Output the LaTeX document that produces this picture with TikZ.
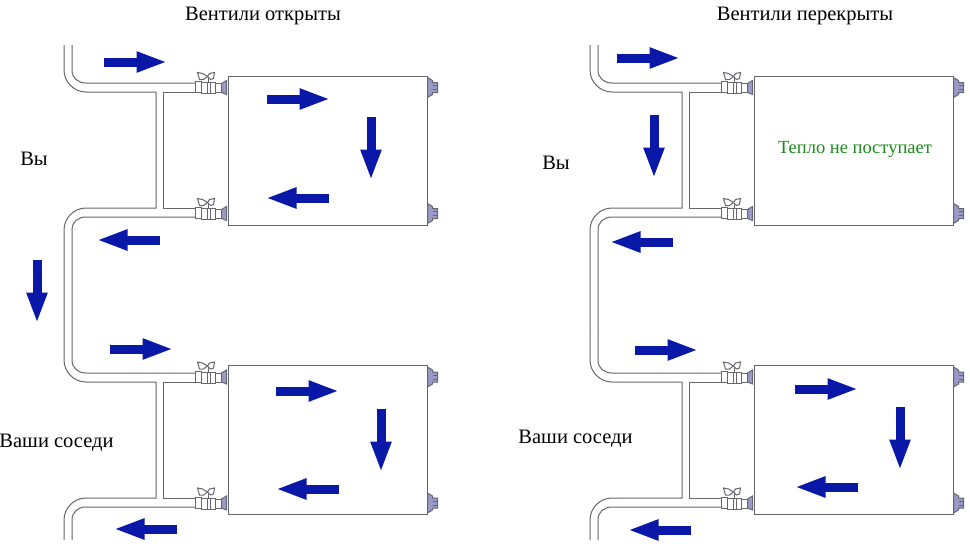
\documentclass[tikz,border=0pt]{standalone}
\usepackage{fontspec}
\setmainfont{Liberation Serif}
\usepackage{tikz}
\usetikzlibrary{arrows.meta,positioning,calc}
\definecolor{pipegray}{HTML}{66666E}
\definecolor{capblue}{HTML}{9A9AC8}
\definecolor{flowblue}{HTML}{0A18A8}
\definecolor{heatgreen}{HTML}{1A8A1A}
\tikzset{
  pipe/.style={draw=pipegray,line width=1pt},
  radiator/.style={draw=pipegray,line width=1pt,minimum width=199pt,minimum height=149pt,inner sep=0pt},
  flow/.style={draw=flowblue,line width=9pt,-{Triangle[length=31pt,width=19pt,fill=flowblue]},shorten >=-2.5pt},
  label/.style={font=\fontsize{20.5}{22}\selectfont,text=black,inner sep=0pt},
  valve/.pic={
    \draw[pipe,fill=white] (-32,-6) rectangle (-26,5);
    \draw[pipe,fill=white] (-26,-5) rectangle (-12,6);
    \draw[pipe] (-20,-5) -- (-20,6) (-17,-5) -- (-17,6);
    \draw[pipe,fill=white] (-12,-4) rectangle (-6,5);
    \draw[pipe,fill=capblue] (-6,-4) -- (-1,-7) -- (-1,7) -- (-6,5) -- cycle;
    \draw[pipe] (-19,-5) -- (-19,-11);
    \draw[pipe,fill=white] (-30,-15) -- (-25,-14) -- (-20,-11) -- (-24,-8) -- (-28,-8) -- cycle;
    \draw[pipe,fill=white] (-13,-15) -- (-18,-14) -- (-20,-11) -- (-17,-8) -- (-14,-9) -- cycle;
  },
  endcap/.pic={
    \draw[pipe,fill=capblue] (0,-10) -- (5,-7) -- (5,-5) -- (10,-5) -- (10,5) -- (5,5) -- (5,7) -- (0,10) -- cycle;
    \draw[pipe] (5,-2) -- (10,-2) (5,2) -- (10,2);
  }
}
\begin{document}
\begin{tikzpicture}[x=1pt,y=-1pt]
  \useasboundingbox (0,0) rectangle (970,546);
  % pipes, one set per radiator
  \foreach \dx in {0,526} {
    \foreach \dy/\low in {0/335,290/250} {
      \begin{scope}[shift={(\dx,\dy)}]
        \draw[pipe] (64,45) -- (64,70) .. controls (64,82) and (74,92) .. (86,92) -- (156,92) -- (156,208) -- (86,208)
          .. controls (74,208) and (64,218) .. (64,230) -- (64,\low);
        \draw[pipe] (72,45) -- (72,70) .. controls (72,78) and (78,83) .. (86,83) -- (196,83);
        \draw[pipe] (196,92) -- (163,92) -- (163,208) -- (196,208);
        \draw[pipe] (196,217) -- (86,217) .. controls (78,217) and (72,222) .. (72,230) -- (72,\low);
      \end{scope}
    }
  }
  % radiators
  \foreach \name/\cx/\cy in {radA/327.5/150.5,radB/327.5/440,radC/853.5/150.5,radD/853.5/440} {
    \node[radiator] (\name) at (\cx,\cy) {};
    \pic at ($(\name.north west)+(0,12)$) {valve};
    \pic at ($(\name.south west)+(0,-12)$) {valve};
    \pic at ($(\name.north east)+(0,12)$) {endcap};
    \pic at ($(\name.south east)+(0,-12)$) {endcap};
  }
  % flow direction
  \foreach \xa/\ya/\xb/\yb in {104/62/165/62,267/99/328/99,371/117/371/178,329/198/268/198,
    160/240/99/240,37/260/37/321,110/349/171/349,276/391/337/391,381/409/381/470,339/489/278/489,177/529/116/529,
    617/58/678/58,654/115/654/176,673/242/612/242,635/350/696/350,795/389/856/389,900/407/900/468,858/487/797/487,691/530/630/530} {
    \draw[flow] (\xa,\ya) -- (\xb,\yb);
  }
  \node[label] (openTitle) at (263,16) {Вентили открыты};
  \node[label] (shutTitle) at (805,16) {Вентили перекрыты};
  \node[label] (youA) at (34,159) {Вы};
  \node[label] (youB) at (556,163) {Вы};
  \node[label] (nextA) at (56.5,443) {Ваши соседи};
  \node[label] (nextB) at (575.5,439) {Ваши соседи};
  \node[label,text=heatgreen,font=\fontsize{18.5}{20}\selectfont] (noHeat) at (855,149) {Тепло не поступает};
\end{tikzpicture}
\end{document}
